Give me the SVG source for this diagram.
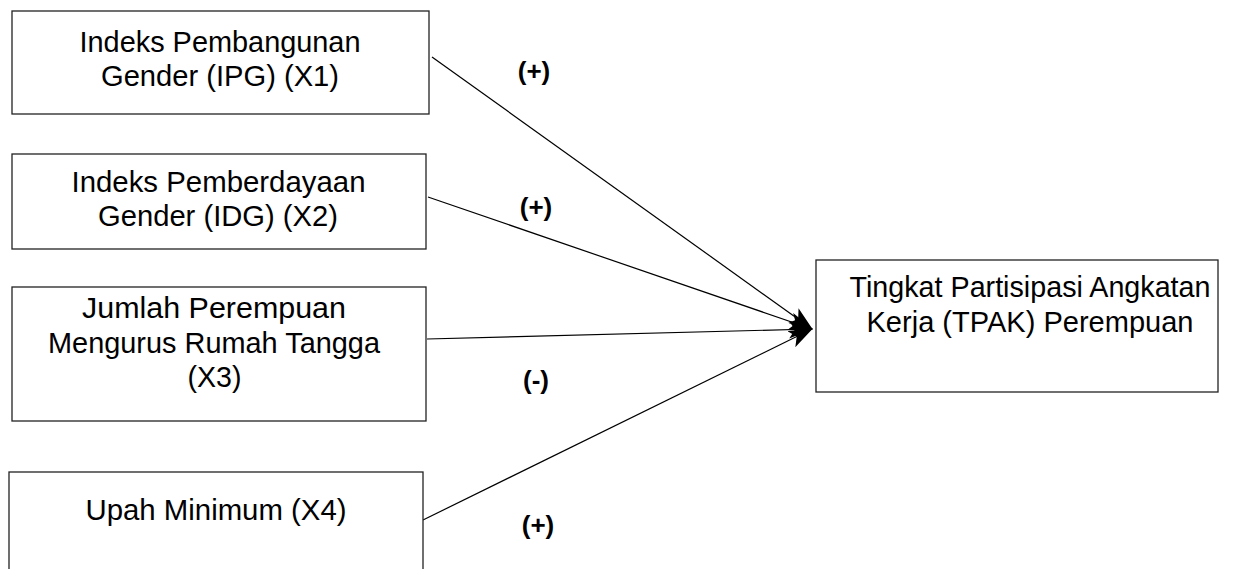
<svg xmlns="http://www.w3.org/2000/svg" width="1235" height="569" viewBox="0 0 1235 569">
<style>
.box{fill:#fff;stroke:#222;stroke-width:1.3}
.t{font-family:"Liberation Sans",Arial,sans-serif;font-size:29px;fill:#000;text-anchor:middle}
.lbl{font-family:"Liberation Sans",Arial,sans-serif;font-weight:bold;font-size:26px;fill:#000;text-anchor:middle}
.conn{stroke:#000;stroke-width:1.2;fill:none;marker-end:url(#ah)}
</style>
<defs>
<marker id="ah" markerUnits="userSpaceOnUse" markerWidth="24" markerHeight="18" refX="23" refY="9" orient="auto">
<path d="M0,0 L24,9 L0,18 L6,9 z" fill="#000"/>
</marker>
</defs>
<rect width="1235" height="569" fill="#fff"/>
<g id="connectors">
<line class="conn" x1="432" y1="57" x2="812" y2="329"/>
<line class="conn" x1="428" y1="197" x2="812" y2="329"/>
<line class="conn" x1="427" y1="339" x2="812" y2="329"/>
<line class="conn" x1="423" y1="520" x2="812" y2="329"/>
</g>
<g id="x1">
<rect class="box" x="12" y="11" width="417" height="103"/>
<text class="t" x="220" y="51.5" textLength="281" lengthAdjust="spacingAndGlyphs">Indeks Pembangunan</text>
<text class="t" x="220" y="86" textLength="238" lengthAdjust="spacingAndGlyphs">Gender (IPG) (X1)</text>
</g>
<g id="x2">
<rect class="box" x="12" y="154" width="414" height="95"/>
<text class="t" x="218.5" y="192" textLength="294" lengthAdjust="spacingAndGlyphs">Indeks Pemberdayaan</text>
<text class="t" x="218" y="226" textLength="240" lengthAdjust="spacingAndGlyphs">Gender (IDG) (X2)</text>
</g>
<g id="x3">
<rect class="box" x="12" y="287" width="414" height="134"/>
<text class="t" x="214" y="318" textLength="264" lengthAdjust="spacingAndGlyphs">Jumlah Perempuan</text>
<text class="t" x="214" y="352.5" textLength="332" lengthAdjust="spacingAndGlyphs">Mengurus Rumah Tangga</text>
<text class="t" x="214.5" y="387" textLength="54" lengthAdjust="spacingAndGlyphs">(X3)</text>
</g>
<g id="x4">
<rect class="box" x="9" y="472" width="414" height="130"/>
<text class="t" x="216" y="520" textLength="261" lengthAdjust="spacingAndGlyphs">Upah Minimum (X4)</text>
</g>
<g id="y">
<rect class="box" x="816" y="260" width="402" height="132"/>
<text class="t" x="1030" y="296.5" textLength="361" lengthAdjust="spacingAndGlyphs">Tingkat Partisipasi Angkatan</text>
<text class="t" x="1030" y="331.5" textLength="327" lengthAdjust="spacingAndGlyphs">Kerja (TPAK) Perempuan</text>
</g>
<g id="labels">
<text class="lbl" x="534" y="80">(+)</text>
<text class="lbl" x="536" y="216">(+)</text>
<text class="lbl" x="536" y="389">(-)</text>
<text class="lbl" x="538" y="534">(+)</text>
</g>
</svg>
